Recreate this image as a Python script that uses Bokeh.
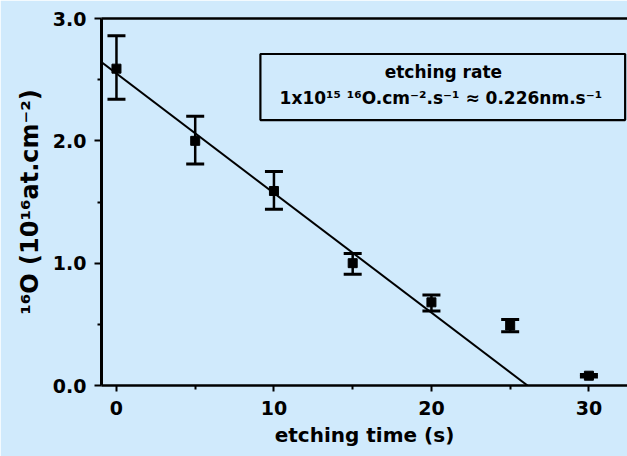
from bokeh.plotting import figure
from bokeh.models import (ColumnDataSource, Whisker, TeeHead, LinearAxis, FixedTicker,
                          Range1d, BoxAnnotation, Label, CustomJSTickFormatter)
from bokeh.embed import file_html
from bokeh.resources import INLINE

# ---- data ----
etch_time = [0, 5, 10, 15, 20, 25, 30]
o16 = [2.59, 2.00, 1.59, 1.00, 0.68, 0.49, 0.08]
o16_upper = [2.86, 2.20, 1.75, 1.08, 0.74, 0.54, 0.09]
o16_lower = [2.34, 1.81, 1.44, 0.91, 0.61, 0.44, 0.07]

fit_t = [-1.0, 26.1]
fit_y = [2.648, 0.0]

x_ticks = [0, 10, 20, 30]
x_minor = [5, 15, 25]
y_ticks = [0.0, 1.0, 2.0, 3.0]
y_minor = [0.5, 1.5, 2.5]

BG = "#d0eafc"
FONT = "DejaVu Sans"

p = figure(width=627, height=456, output_backend="svg", toolbar_location=None,
           x_range=Range1d(-0.95, 32.45), y_range=Range1d(0, 3.0),
           min_border_left=101, min_border_right=0, min_border_top=18, min_border_bottom=71)
p.background_fill_color = BG
p.border_fill_color = BG
p.outline_line_color = None
p.xgrid.visible = False
p.ygrid.visible = False

# axes
xa = p.xaxis[0]
xa.ticker = FixedTicker(ticks=x_ticks, minor_ticks=x_minor)
xa.axis_line_width = 2.5
xa.major_tick_line_width = 2
xa.major_tick_in = 0
xa.major_tick_out = 6
xa.minor_tick_in = 0
xa.minor_tick_out = 4
xa.minor_tick_line_width = 2
xa.major_label_text_font = FONT
xa.major_label_text_font_style = "bold"
xa.major_label_text_font_size = "19px"
xa.major_label_text_color = "black"
xa.major_label_standoff = 9
xa.axis_label = "etching time (s)"
xa.axis_label_text_font = FONT
xa.axis_label_text_font_style = "bold"
xa.axis_label_text_font_size = "20px"
xa.axis_label_text_color = "black"
xa.axis_label_standoff = 5

ya = p.yaxis[0]
ya.ticker = FixedTicker(ticks=y_ticks, minor_ticks=y_minor)
ya.formatter = CustomJSTickFormatter(code="return tick.toFixed(1);")
ya.axis_line_width = 3
ya.major_tick_line_width = 2
ya.major_tick_in = 0
ya.major_tick_out = 7
ya.minor_tick_in = 0
ya.minor_tick_out = 4
ya.minor_tick_line_width = 2
ya.major_label_text_font = FONT
ya.major_label_text_font_style = "bold"
ya.major_label_text_font_size = "19px"
ya.major_label_text_color = "black"
ya.major_label_standoff = 8
ya.axis_label = "¹⁶O (10¹⁶at.cm⁻²)"
ya.axis_label_text_font = FONT
ya.axis_label_text_font_style = "bold"
ya.axis_label_text_font_size = "24px"
ya.axis_label_text_color = "black"
ya.axis_label_standoff = 6

top = LinearAxis(ticker=FixedTicker(ticks=[], minor_ticks=[]), axis_line_width=2.5,
                 major_tick_in=0, major_tick_out=0, minor_tick_in=0, minor_tick_out=0,
                 major_label_text_font_size="0px")
p.add_layout(top, "above")

src = ColumnDataSource(dict(t=etch_time, y=o16, up=o16_upper, lo=o16_lower))

# fit line
p.line(fit_t, fit_y, line_color="black", line_width=2)

# error bars
wh = Whisker(base="t", upper="up", lower="lo", source=src, line_width=2.5, line_color="black",
             upper_head=TeeHead(size=18, line_width=3, line_color="black"),
             lower_head=TeeHead(size=18, line_width=3, line_color="black"))
p.add_layout(wh)

# points
p.scatter("t", "y", source=src, marker="square", size=9, fill_color="black", line_color="black")

# annotation box
p.add_layout(BoxAnnotation(left=9.14, right=32.3, bottom=2.17, top=2.71,
                           fill_alpha=0, line_color="black", line_alpha=1.0, line_width=2.2))
p.add_layout(Label(x=20.76, y=2.56, text="etching rate", text_align="center",
                   text_baseline="middle", text_font=FONT, text_font_style="bold",
                   text_font_size="17px", text_color="black"))
p.add_layout(Label(x=20.6, y=2.35, text="1x10¹⁵ ¹⁶O.cm⁻².s⁻¹ ≈ 0.226nm.s⁻¹", text_align="center",
                   text_baseline="middle", text_font=FONT, text_font_style="bold",
                   text_font_size="17px", text_color="black"))

open("out.html", "w").write(file_html(p, INLINE))
